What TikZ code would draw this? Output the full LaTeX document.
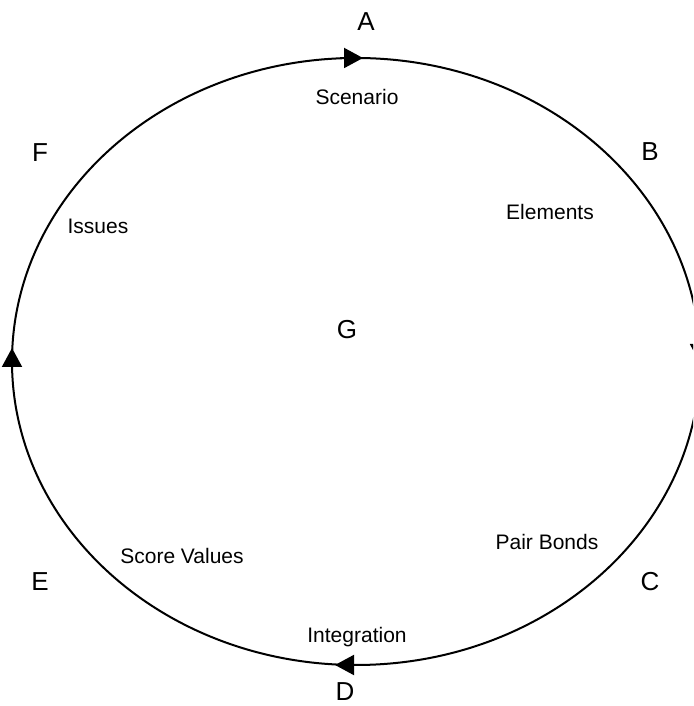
\documentclass[tikz,border=0pt]{standalone}
\usepackage{fontspec}
\setmainfont{Liberation Sans}
\usetikzlibrary{arrows.meta}

\tikzset{
  corner/.style={font=\fontsize{26}{31}\selectfont},
  phase/.style={font=\fontsize{21}{25}\selectfont},
  flow/.style={line width=2pt, -{Triangle[length=19pt, width=20pt]}},
}

\begin{document}
\begin{tikzpicture}[x=1pt, y=1pt, line width=2pt]
    \useasboundingbox (0,0) rectangle (693,706);
    \clip (0,0) rectangle (693,706);
    \draw (356,344.5) ellipse (344 and 303.5);
    % direction marks on the cycle
    \draw [flow] (340,648) -- (363,648);
    \draw [flow] (700,366) -- (700,343);
    \draw [flow] (357,41) -- (335,41);
    \draw [flow] (12,335) -- (12,358);
    % outer letters
    \node[corner] (a) at (366,684) {A};
    \node[corner] (b) at (650,554) {B};
    \node[corner] (c) at (650,124) {C};
    \node[corner] (d) at (345,14) {D};
    \node[corner] (e) at (40,124) {E};
    \node[corner] (f) at (40,553) {F};
    \node[corner] (g) at (347,376) {G};
    % phases
    \node[phase] (scenario) at (357,609) {Scenario};
    \node[phase] (elements) at (550,494) {Elements};
    \node[phase] (bonds) at (547,164) {Pair Bonds};
    \node[phase] (integration) at (357,69) {Integration};
    \node[phase] (score) at (182,150) {Score Values};
    \node[phase] (issues) at (98,480) {Issues};
\end{tikzpicture}
\end{document}
